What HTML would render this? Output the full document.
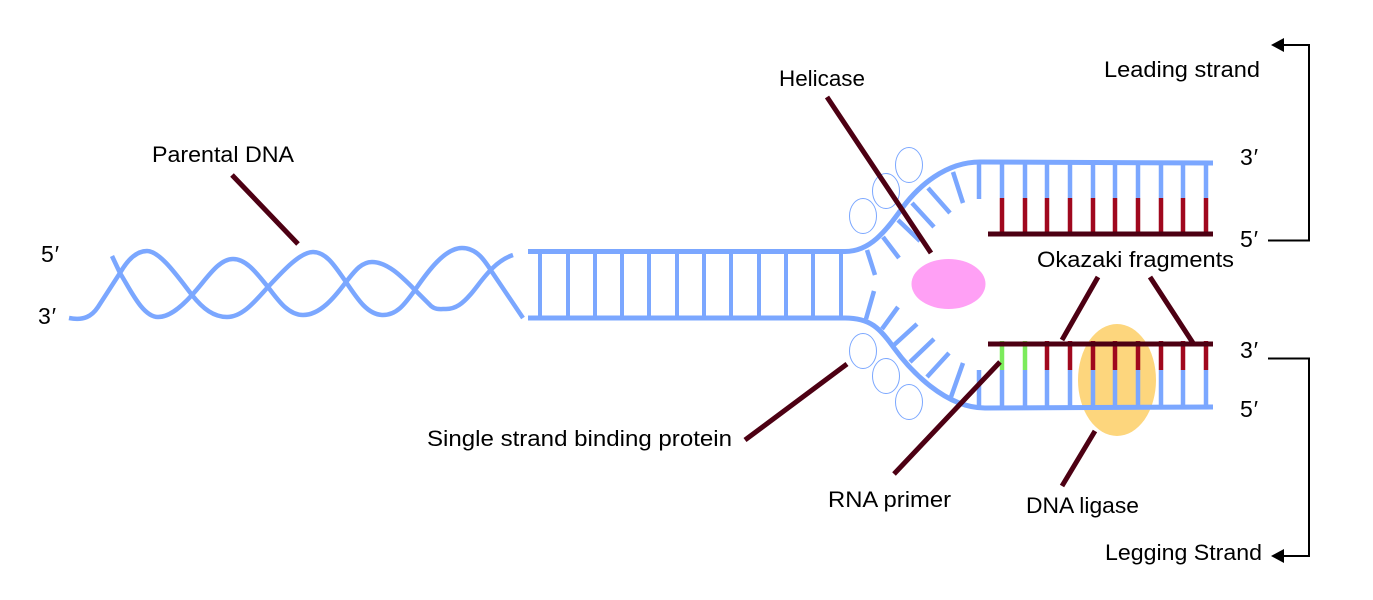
<!DOCTYPE html>
<html>
<head>
<meta charset="utf-8">
<style>
html,body{margin:0;padding:0;background:#fff}
svg{display:block}
text{font-family:"Liberation Sans",sans-serif;font-size:22px;fill:#000}
text.n{font-size:23px}
</style>
</head>
<body>
<svg width="1373" height="600" viewBox="0 0 1373 600" xmlns="http://www.w3.org/2000/svg">
<rect width="1373" height="600" fill="#fff"/>
<ellipse cx="948.5" cy="284" rx="37" ry="25" fill="#FFA0F5"/>
<ellipse cx="1117" cy="380" rx="39" ry="56" fill="#FDD67D"/>
<g fill="none" stroke="#7BA7FF" stroke-width="4.5">
<path d="M69 318C84 321 92 316 98 307L120 273C128 259 137 251 147 251C160 251 178 277 192 295C203 309 214 317 227 317C243 317 256 300 268 287C282 272 300 252 313 252C327 252 336 268 346 282C358 300 368 315 383 315C398 315 406 302 415 290C428 271 445 248 462 248C477 248 485 261 492 272L523 318"/>
<path d="M112 256L120 273C131 291 143 317 158 317C170 317 182 306 192 295C206 280 218 259 233 259C247 259 258 275 268 287C278 300 288 315 303 315C320 315 334 298 346 282C354 272 361 262 372 262C388 262 403 278 415 290L431 306C436 310 440 309 446 309C456 309 463 303 470 295C480 284 492 262 513 255"/>
<path stroke-width="5" d="M528 251.5H845C870 251.5 885 232 903 207C918 187 945 162 980 162L1213 163"/>
<path stroke-width="5" d="M528 318H845C870 318 880 328 894 348C910 370 945 408 985 408L1213 407"/>
<path stroke-width="4" d="M540 251V318M568 251V318M595 251V318M622 251V318M649 251V318M677 251V318M704 251V318M731 251V318M759 251V318M786 251V318M813 251V318M841 251V318"/>
<path d="M953 172L963 203M928 188L950 213M912 203L934 227M898 220L920 241M883 237L899 258M867 250L875 275"/>
<path d="M874 291L866 319M898 307L882 329M917 324L894 345M934 339L910 362M949 353L927 377M963 363L951 397"/>
<path d="M979 162V199M1002 162V198M1025 162V198M1047 162V198M1070 162V198M1093 162V198M1115 162V198M1138 162V198M1161 162V198M1183 162V198M1206 162V198"/>
<path d="M979 370V407M1002 370V407M1025 370V407M1047 370V407M1070 370V407M1093 370V407M1115 370V407M1138 370V407M1161 370V407M1183 370V407M1206 370V407"/>
</g>
<g fill="none" stroke="#A0081E" stroke-width="4.5">
<path d="M1002 198V236M1025 198V236M1047 198V236M1070 198V236M1093 198V236M1115 198V236M1138 198V236M1161 198V236M1183 198V236M1206 198V236"/>
<path d="M1047 341V370M1070 341V370M1093 341V370M1115 341V370M1138 341V370M1161 341V370M1183 341V370M1206 341V370"/>
</g>
<path d="M1002 341V370M1025 341V370" fill="none" stroke="#7CEB5C" stroke-width="4.5"/>
<g fill="#fff" stroke="#7BA7FF" stroke-width="1">
<ellipse cx="909" cy="165" rx="13.5" ry="17.5"/>
<ellipse cx="886" cy="191" rx="13.5" ry="17.5"/>
<ellipse cx="863" cy="216" rx="13.5" ry="17.5"/>
<ellipse cx="863" cy="351" rx="13.5" ry="17.5"/>
<ellipse cx="886" cy="376" rx="13.5" ry="17.5"/>
<ellipse cx="909" cy="402" rx="13.5" ry="17.5"/>
</g>
<g fill="none" stroke="#4D0013" stroke-width="5">
<path d="M988 234H1213M988 344H1213"/>
<path d="M827 97L931 253M232 175L298 244M745 440L847 364M894 474L1000 362M1098 277L1062 340M1150 277L1193 343M1095 431L1062 486"/>
</g>
<g fill="none" stroke="#000" stroke-width="2">
<path d="M1280 45H1309V240.5H1268"/>
<path d="M1268 358.5H1309V556H1280"/>
</g>
<path d="M1271 45L1284 38V52Z" fill="#000"/>
<path d="M1271 556L1284 549V563Z" fill="#000"/>
<text x="152" y="162" textLength="142" lengthAdjust="spacingAndGlyphs">Parental DNA</text>
<text x="779" y="86" textLength="86" lengthAdjust="spacingAndGlyphs">Helicase</text>
<text x="1104" y="77" textLength="156" lengthAdjust="spacingAndGlyphs">Leading strand</text>
<text x="1037" y="267" textLength="197" lengthAdjust="spacingAndGlyphs">Okazaki fragments</text>
<text x="427" y="446" textLength="305" lengthAdjust="spacingAndGlyphs">Single strand binding protein</text>
<text x="828" y="507" textLength="123" lengthAdjust="spacingAndGlyphs">RNA primer</text>
<text x="1026" y="513" textLength="113" lengthAdjust="spacingAndGlyphs">DNA ligase</text>
<text x="1105" y="560" textLength="157" lengthAdjust="spacingAndGlyphs">Legging Strand</text>
<text class="n" x="41" y="262" textLength="18">5′</text>
<text class="n" x="38" y="324" textLength="18">3′</text>
<text class="n" x="1240" y="165" textLength="18">3′</text>
<text class="n" x="1240" y="247" textLength="18">5′</text>
<text class="n" x="1240" y="358" textLength="18">3′</text>
<text class="n" x="1240" y="417" textLength="18">5′</text>
</svg>
</body>
</html>
